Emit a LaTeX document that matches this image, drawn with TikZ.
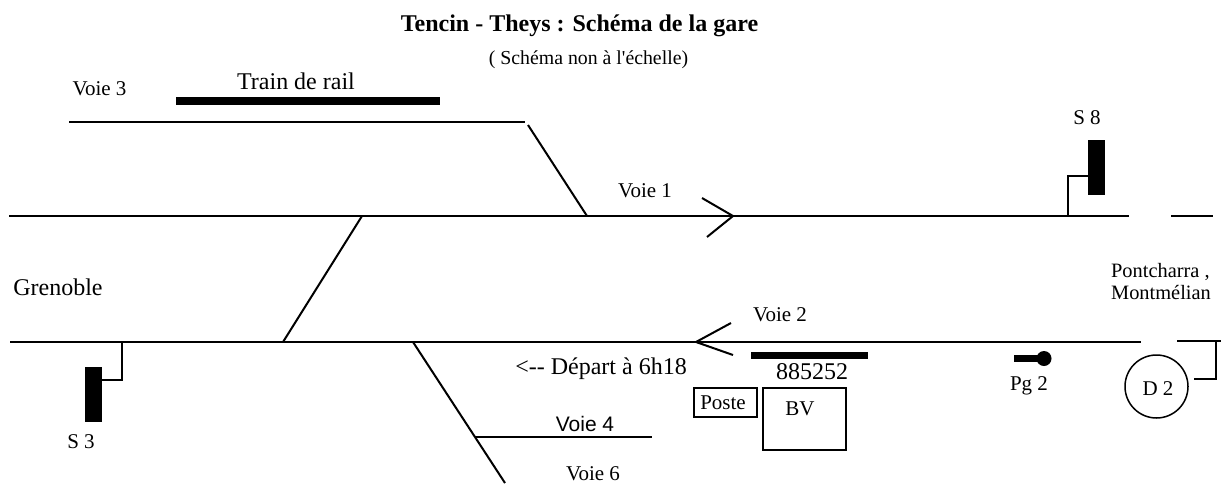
\documentclass[tikz,border=0pt]{standalone}
\usepackage{fontspec}
\setmainfont{Liberation Serif}
\newfontfamily\arialfont{Liberation Sans}
\usepackage{tikz}
\usetikzlibrary{positioning,calc}
\tikzset{
    x=0.5pt,
    y=-0.5pt,
    track/.style = {
        draw,
        line width=1pt
    },
    thin track/.style = {
        draw,
        line width=0.75pt
    },
    signal/.style = {
        draw,
        fill=black,
        shape=rectangle,
        inner sep=0pt,
        minimum width=8pt,
        minimum height=27pt
    },
    wagons/.style = {
        fill=black,
        shape=rectangle,
        inner sep=0pt
    },
    building/.style = {
        draw,
        shape=rectangle,
        inner sep=0pt,
        line width=0.75pt
    },
    label/.style = {
        inner sep=0pt,
        font=\fontsize{10.5pt}{12pt}\selectfont,
        align=center
    },
    large label/.style = {
        label,
        font=\fontsize{12pt}{14pt}\selectfont
    },
}
\begin{document}
\begin{tikzpicture}
    \useasboundingbox (0,0) rectangle (1221,483);

    %titles
    \node[label, font=\fontsize{12pt}{14pt}\selectfont\bfseries] (title) at (579.5,25.5) {Tencin - Theys : Schéma de la gare};
    \node[label, font=\fontsize{9.9pt}{12pt}\selectfont] (subtitle) at (588.5,59.5) {( Schéma non à l\textquotesingle échelle)};

    %track ends and junctions
    \coordinate (v3w) at (69,122);
    \coordinate (v3e) at (525,122);
    \coordinate (v3x) at (528,125);
    \coordinate (v1w) at (9,216);
    \coordinate (v1e) at (1129,216);
    \coordinate (v1j) at (587,216);
    \coordinate (xn) at (362,216);
    \coordinate (xs) at (283,342);
    \coordinate (v2w) at (10,342);
    \coordinate (v2e) at (1141,342);
    \coordinate (v6n) at (413,342);
    \coordinate (v6s) at (505,483);
    \coordinate (v4w) at (475,437);
    \coordinate (v4e) at (652,437);

    \path[track] (v3w) -- (v3e);
    \path[track] (v3x) -- (v1j);
    \path[track] (v1w) -- (v1e);
    \path[track] (xn) -- (xs);
    \path[track] (v2w) -- (v2e);
    \path[track] (v6n) -- (v6s);
    \path[thin track] (v4w) -- (v4e);

    %direction marks
    \coordinate (tipa) at (733,216);
    \coordinate (tipau) at (702,198);
    \coordinate (tipal) at (707,237);
    \path[track] (tipau) -- (tipa) -- (tipal);
    \coordinate (tipb) at (696,342);
    \coordinate (tipbu) at (731,323);
    \coordinate (tipbl) at (733,355);
    \path[track] (tipbu) -- (tipb) -- (tipbl);

    %right side, beyond the gap
    \coordinate (gapw) at (1171,216);
    \coordinate (gape) at (1213,216);
    \path[thin track] (gapw) -- (gape);
    \coordinate (dw) at (1177,341);
    \coordinate (de) at (1221,341);
    \coordinate (dc) at (1216,341);
    \path[track] (dw) -- (de);

    %signals
    \node[signal] (s8) at (1096,167) {};
    \node[label] (s8label) at (1087,118) {S 8};
    \coordinate (s8foot) at (1068,216);
    \path[thin track] (s8foot) |- (s8.west |- 0,176);
    \node[signal] (s3) at (93,394) {};
    \node[label] (s3label) at (81,442) {S 3};
    \coordinate (s3foot) at (122,342);
    \path[thin track] (s3foot) |- (s3.east |- 0,380);

    %wagons
    \node[wagons, minimum width=132pt, minimum height=4pt] (rail) at (308,100.5) {};
    \node[large label] (raillabel) at (296,81) {Train de rail};
    \node[wagons, minimum width=58.5pt, minimum height=3.5pt] (rame) at (809.5,355.5) {};
    \node[large label] (ramelabel) at (812,372) {885252};

    %buildings
    \node[building, minimum width=31.5pt, minimum height=14.5pt] (poste) at (725.5,402.5) {};
    \node[label] (postelabel) at (723,402.5) {Poste};
    \node[building, minimum width=41.5pt, minimum height=31pt] (bv) at (804.5,419) {};
    \node[label] (bvlabel) at (800,409) {BV};

    %ground lever
    \node[wagons, shape=circle, minimum size=7.5pt] (pg) at (1044,358.5) {};
    \node[wagons, minimum width=13pt, minimum height=3.5pt] (pgbar) at (1027,358) {};
    \node[label] (pglabel) at (1029,386) {Pg 2};

    %D 2
    \node[building, shape=circle, minimum size=31.5pt] (d2) at (1156.5,386.5) {};
    \node[label] (d2label) at (1158,389) {D 2};
    \coordinate (dt) at (1194,379);
    \path[track] (dc) |- (dt);

    %names
    \node[label] (v3label) at (99.5,89) {Voie 3};
    \node[label] (v1label) at (645,191) {Voie 1};
    \node[label] (v2label) at (780,315) {Voie 2};
    \node[label, font=\fontsize{10.5pt}{12pt}\selectfont\arialfont] (v4label) at (585,424) {Voie 4};
    \node[label] (v6label) at (593,473.5) {Voie 6};
    \node[large label] (grenoble) at (58,287) {Grenoble};
    \node[label, font=\fontsize{10.2pt}{11pt}\selectfont, align=left] (pontcharra) at (1161,281.5) {Pontcharra ,\\Montmélian};
    \node[large label] (depart) at (601,369) {<-{}- Départ à 6h18};
\end{tikzpicture}
\end{document}
